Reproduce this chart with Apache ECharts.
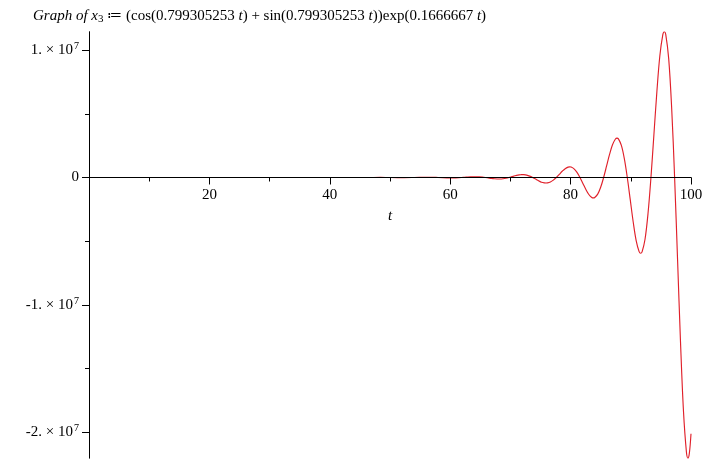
<!DOCTYPE html>
<html><head><meta charset="utf-8">
<script src="https://cdn.jsdelivr.net/npm/echarts@6/dist/echarts.min.js"></script>
<style>html,body{margin:0;padding:0;background:#fff}#c{width:706px;height:459px}</style>
</head><body><div id="c"></div>
<script>
const tValues = [0,1.240,2.948,5.170,6.878,9.101,10.809,13.031,14.739,16.962,18.670,20.892,22.600,24.822,26.530,28.753,30.461,32.683,34.391,36.614,38.322,40.544,42.252,44.474,46.182,48.405,50.113,52.335,54.043,56.266,57.974,
59.939,60.430,60.921,61.413,61.904,62.395,62.886,63.378,
63.869,64.360,64.852,65.343,65.834,66.326,66.817,67.308,
67.799,68.291,68.782,69.273,69.765,70.256,70.747,71.239,
71.730,71.987,72.221,72.712,73.204,73.695,74.186,74.678,75.169,
75.660,75.918,76.152,76.643,77.134,77.625,78.117,78.608,79.099,
79.591,79.848,80.082,80.573,81.065,81.556,82.047,82.538,83.030,
83.521,83.779,84.012,84.504,84.995,85.486,85.978,86.469,86.960,
87.451,87.709,87.943,88.434,88.925,89.417,89.908,90.399,90.891,
91.382,91.639,91.873,92.364,92.856,93.347,93.838,94.330,94.821,
95.312,95.570,95.804,96.295,96.786,97.278,97.769,98.260,98.751,
99.243,99.500,99.734,100];
const xValues = [1,1.70,0,-3.28,0,6.31,0,-12.15,0,23.39,0,-45.03,0,86.69,0,-166.9,0,321.3,0,-618.6,0,1191,0,-2293,0,4415,0,-8500,0,16364,0,
-30833,-30917,-25682,-15085,0,17769,35635,50532,
59363,59523,49446,29043,0,-34211,-68607,-97287,
-114289,-114599,-95194,-55915,0,65865,132086,187305,
220038,224847,220634,183275,107652,0,-126807,-254302,-367613,
-423633,-432889,-424780,-352855,-207259,0,244139,489600,694278,
815609,833434,817818,679341,399030,0,-470033,-942614,-1336674,
-1570270,-1604598,-1574522,-1307916,-768242,0,904942,1814788,2573461,
3023196,3089319,3031383,2518095,1479075,0,-1742259,-3493961,-4954613,
-5820476,-5947700,-5836239,-4848019,-2847623,0,3354324,6726826,9538979,
11206000,11451010,11236347,9333754,5482448,0,-6457986,-12950971,-18365129,
-21574599,-22046350,-21633025,-20127996];
const xTickLabels = [20,40,60,80,100];
const yLabelValues = [-20000000,-10000000,0,10000000];
const yMinorTickValues = [-15000000,-5000000,5000000];

const data = tValues.map((t,i)=>[t,xValues[i]]);
const yMin = Math.min(...xValues), yMax = Math.max(...xValues);
const FONT = '"Liberation Serif","Times New Roman",serif';

const chart = echarts.init(document.getElementById('c'));
chart.setOption({
  animation:false,
  backgroundColor:'#fff',
  title:{
    left:33, top:7, padding:0,
    text:'{it|Graph of x}{sub|3}{n| ≔ (cos(0.799305253 }{it|t}{n|) + sin(0.799305253 }{it|t}{n|))exp(0.1666667 }{it|t}{n|)}',
    textStyle:{
      fontFamily:FONT, fontSize:15, color:'#000', fontWeight:'normal',
      rich:{
        it:{fontFamily:FONT,fontSize:15,fontStyle:'italic',color:'#000'},
        n:{fontFamily:FONT,fontSize:15,color:'#000'},
        sub:{fontFamily:FONT,fontSize:11,color:'#000',verticalAlign:'bottom',padding:[7,0,0,0]}
      }
    }
  },
  grid:{left:89,right:15,top:31.7,bottom:0.8,outerBoundsMode:'none'},
  xAxis:[{
    type:'value', min:0, max:100, interval:20, position:'bottom', z:5,
    axisLine:{show:true,onZero:false,lineStyle:{color:'#000',width:1}},
    axisTick:{show:true,length:7,lineStyle:{color:'#000'}},
    minorTick:{show:true,splitNumber:2,length:4,lineStyle:{color:'#000'}},
    splitLine:{show:false},
    axisLabel:{margin:10,fontFamily:FONT,fontSize:15,color:'#000',
      formatter:v=>xTickLabels.includes(v)?String(v):''},
    name:'t', nameLocation:'middle', nameGap:31,
    nameTextStyle:{fontFamily:FONT,fontSize:15,fontStyle:'italic',color:'#000'}
  }],
  yAxis:[{
    type:'value', min:yMin, max:yMax, z:5,
    axisLine:{show:true,onZero:true,lineStyle:{color:'#000',width:1}},
    axisTick:{show:true,length:7,customValues:yLabelValues,lineStyle:{color:'#000'}},
    splitLine:{show:false},
    axisLabel:{margin:10,customValues:yLabelValues,fontFamily:FONT,fontSize:15,color:'#000',
      formatter:v=>{
        if (v===0) return '{n|0}';
        const m=Math.round(v/1e7);
        return '{n|'+(m<0?'-':'')+Math.abs(m)+'. × 10}{s|7}';
      },
      rich:{
        n:{fontFamily:FONT,fontSize:15,color:'#000'},
        s:{fontFamily:FONT,fontSize:10,color:'#000',verticalAlign:'top',padding:[0,0,7,1]}
      }
    }
  },{
    type:'value', min:yMin, max:yMax, position:'left', z:5,
    axisLine:{show:false,onZero:true},
    axisTick:{show:true,length:4,customValues:yMinorTickValues,lineStyle:{color:'#000'}},
    splitLine:{show:false},
    axisLabel:{show:false}
  }],
  series:[{
    type:'line', data:data, xAxisIndex:0, yAxisIndex:0, z:1,
    showSymbol:false, smooth:0.35,
    lineStyle:{color:'#e0202a',width:1.15}
  }]
});
// move the t-axis up to the y = 0 line, using the library's own y scale
const zeroY = chart.convertToPixel({yAxisIndex:0}, 0);
const bottomY = chart.convertToPixel({yAxisIndex:0}, yMin);
chart.setOption({xAxis:[{offset: zeroY - bottomY}]});
</script></body></html>
